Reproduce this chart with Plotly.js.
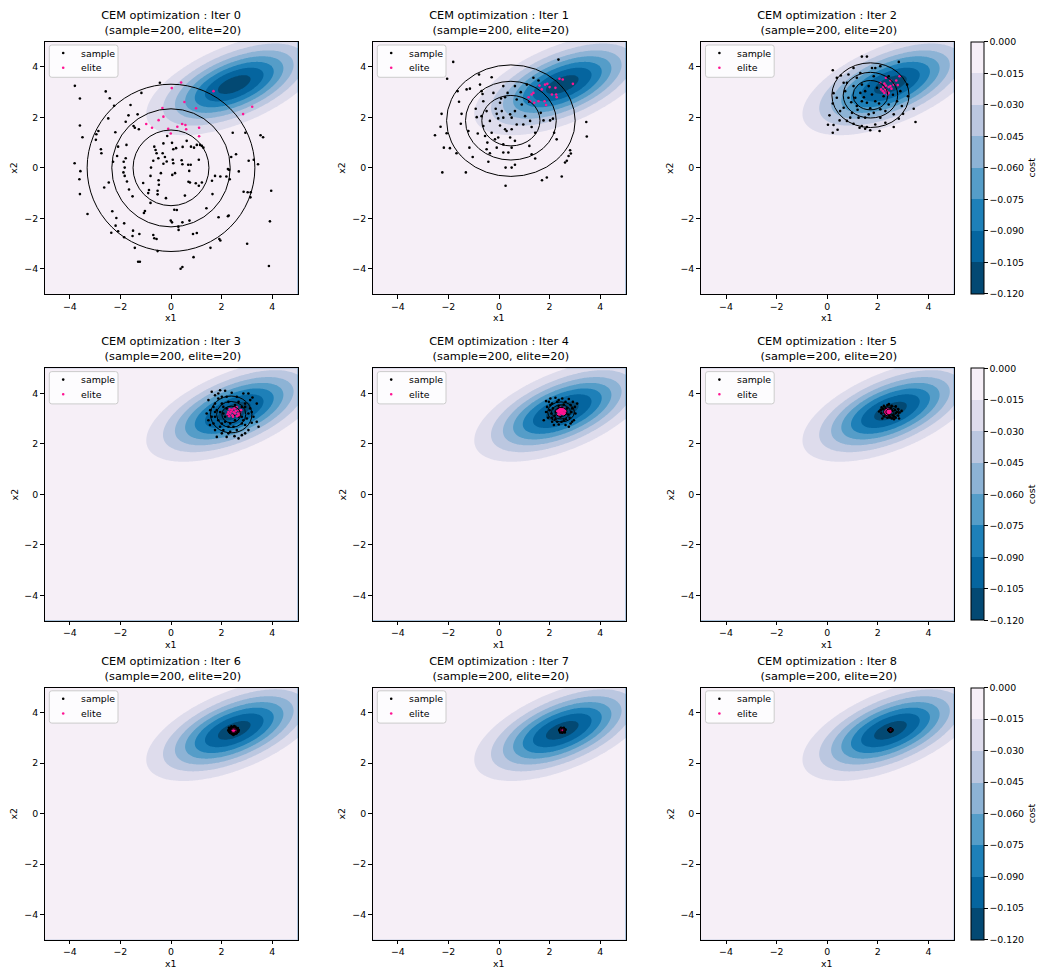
<!DOCTYPE html>
<html><head><meta charset="utf-8">
<script src="https://cdn.plot.ly/plotly-3.0.1.min.js"></script>
<style>html,body{margin:0;padding:0;background:#fff}</style>
</head><body><div id="chart" style="width:1039px;height:970px"></div>
<script>
// ---------------- data ----------------
const iterations = [0,1,2,3,4,5,6,7,8];
const sampleCount = 200, eliteCount = 20;
const seriesNames = ['sample', 'elite'];
const costMean = [2.5, 3.3];
const costCov = [[3.0, 1.0],[1.0, 1.0]];
const costLevels = {start: -0.12, end: 0, size: 0.015};
const bandColors = ['#034973','#05659f','#1e80b8','#559dc8','#8db3d5','#bbc7e0','#dedcec','#f6eff7'];
const colorbarTicks = [0, -0.015, -0.03, -0.045, -0.06, -0.075, -0.09, -0.105, -0.12];
const axisTicks = [-4, -2, 0, 2, 4];
const axisRange = [-5, 5];

// Gaussian (sampling distribution) ellipses: centre and 1st-ring radii per iteration
const ellipseCenters = [[0,0],[0.47,1.87],[1.71,2.88],[2.38,3.17],[2.45,3.27],[2.48,3.27],[2.47,3.29],[2.50,3.31],[2.50,3.31]];
const ellipseRadii = [[1.5,1.5],[1.15,1.0],[0.69,0.58],[0.37,0.33],[0.24,0.18],[0.16,0.11],[0.10,0.07],[0.06,0.045],[0.04,0.03]];
const ellipseRings = [1, 1.56, 2.21];

const samples0 = [[-3.80,3.25],[-3.60,2.75],[-3.50,1.21],[-3.60,1.68],[-3.81,0.18],[-3.58,-0.13],[-3.62,-0.45],[-3.60,-1.04],[-3.30,-1.83],[-2.58,3.03],[-2.42,2.76],[-2.25,2.46],[-2.48,1.96],[-2.95,1.33],[-2.87,1.46],[-2.97,1.11],[-2.77,0.74],[-2.75,0.58],[-2.20,1.41],[-2.09,0.84],[-2.13,0.47],[-2.29,0.24],[-2.64,-0.78],[-2.46,-0.58],[-2.32,-1.72],[-2.16,-1.99],[-2.19,-2.29],[-2.36,-2.57],[-2.09,-2.51],[-1.85,-2.20],[-1.79,1.83],[-1.76,0.91],[-1.79,0.38],[-1.87,0.24],[-1.83,0.01],[-1.83,-0.32],[-1.88,-0.18],[-1.74,-0.54],[-1.66,-0.86],[-1.52,-1.13],[-1.68,2.08],[-1.60,2.49],[-1.48,1.66],[-1.32,2.12],[-1.43,1.59],[-1.27,1.53],[-1.50,-2.49],[-1.52,-2.70],[-1.85,-2.75],[-1.43,-3.17],[-1.25,-2.62],[-1.17,2.97],[-1.07,-1.79],[-1.03,-1.71],[-0.87,-0.88],[-0.90,-1.00],[-0.81,-1.39],[-1.30,-3.72],[-1.23,-3.72],[-0.70,-2.66],[-0.66,-2.79],[-0.57,-2.82],[-0.53,-3.30],[-0.44,3.37],[-0.66,0.84],[-0.61,0.71],[-0.57,0.58],[-0.50,0.38],[-0.70,0.28],[-0.79,0.01],[-0.81,-0.32],[-0.49,-0.49],[-0.48,-0.67],[-0.53,-0.91],[-0.53,-1.05],[-0.40,-0.21],[-0.30,0.97],[-0.33,0.58],[-0.24,0.43],[-0.30,0.16],[-0.17,0.25],[-0.15,1.26],[0.04,0.99],[0.09,0.74],[0.07,0.32],[0.09,0.18],[0.05,-0.28],[0.20,0.78],[0.46,0.83],[0.42,0.30],[0.45,0.14],[0.62,1.07],[0.68,0.12],[0.72,-0.12],[0.78,0.12],[0.79,0.84],[0.91,0.80],[1.02,0.91],[1.10,0.32],[1.15,0.91],[1.22,0.87],[0.69,-0.55],[0.75,-0.58],[0.98,-0.61],[1.10,-0.71],[1.22,-0.58],[0.13,-1.66],[0.23,-1.67],[-0.01,-2.09],[0.04,-2.16],[0.45,-2.16],[0.73,-2.09],[0.29,-2.33],[0.30,-2.46],[0.87,-2.62],[1.02,-2.58],[0.45,-3.93],[0.38,-4.00],[0.89,-3.54],[1.56,-3.17],[1.91,-2.82],[1.95,-2.88],[1.88,-1.96],[2.28,-1.89],[2.25,-1.92],[2.32,-0.45],[2.25,-0.05],[2.30,-0.08],[2.19,-0.34],[1.95,-0.34],[1.74,-0.32],[1.62,-0.51],[1.64,-1.04],[2.38,0.43],[2.57,0.54],[2.68,-0.14],[2.44,1.39],[2.94,1.39],[3.07,0.28],[3.27,0.32],[3.44,0.14],[2.87,-0.95],[3.03,-0.97],[3.15,-0.97],[3.14,-1.17],[3.01,-3.01],[3.91,-2.12],[3.96,-0.91],[3.87,-3.89],[3.54,1.29],[3.64,1.21],[1.28,0.80],[0.16,-0.21],[-0.20,-1.20],[0.55,-1.10],[1.40,-1.60],[-1.10,-0.60]];
const elites0 = [[0.40,3.38],[0.03,3.16],[1.68,3.04],[0.53,2.61],[-0.34,2.37],[0.99,2.36],[3.21,2.42],[2.85,2.13],[-0.30,2.03],[-0.49,1.89],[-0.98,1.74],[-0.75,1.59],[-0.11,1.55],[-0.01,1.36],[0.25,1.63],[0.44,1.74],[0.57,1.70],[0.60,1.53],[1.11,1.59],[1.11,1.25]];

const samples1 = [[-1.81,4.20],[-2.05,3.53],[-2.27,2.14],[-2.31,1.63],[-2.53,1.29],[-2.24,-0.18],[-2.18,0.80],[-2.07,1.37],[-1.94,0.78],[-1.64,3.04],[-1.58,2.62],[-1.48,2.14],[-1.51,1.75],[-1.68,0.58],[-1.31,-0.18],[-1.28,3.11],[-1.15,3.14],[-1.21,1.46],[-1.17,0.80],[-1.04,0.43],[-0.92,2.34],[-0.88,2.01],[-0.84,1.36],[-0.79,3.70],[-0.75,3.30],[-0.69,3.04],[-0.65,2.93],[-0.62,1.66],[-0.55,1.26],[-0.46,1.00],[-0.49,0.74],[-0.42,0.24],[-0.36,0.58],[-0.29,3.59],[-0.22,2.97],[-0.13,2.34],[-0.09,2.14],[-0.03,1.96],[0.04,1.68],[0.08,2.75],[0.17,3.24],[0.24,2.80],[0.24,1.53],[0.26,0.01],[0.26,-0.71],[0.34,2.97],[0.44,2.12],[0.50,1.53],[0.50,0.01],[0.63,0.12],[0.63,3.24],[0.70,2.71],[0.86,3.00],[0.90,2.51],[0.96,1.72],[1.10,3.30],[1.19,2.62],[1.20,0.87],[1.29,0.54],[1.36,3.57],[1.43,1.39],[1.43,0.37],[1.56,3.46],[1.65,2.18],[1.70,-0.49],[1.76,1.88],[1.89,-0.38],[2.02,1.88],[2.13,1.95],[2.18,1.39],[2.28,1.13],[2.35,4.29],[2.48,-0.34],[2.61,0.21],[2.68,0.28],[2.75,0.47],[2.81,0.70],[2.84,0.57],[3.45,1.82],[3.47,1.24],[0.04,2.58],[0.11,2.25],[0.17,1.99],[0.30,1.46],[-0.03,1.20],[0.50,1.99],[0.70,1.72],[0.44,1.20],[0.17,0.93],[0.63,1.07],[-0.09,0.80],[0.50,0.80],[0.17,0.61],[0.37,0.61],[1.03,2.05],[1.23,1.86],[1.29,1.62],[0.63,2.25],[-0.62,2.64],[-0.49,2.25],[-0.69,2.05],[-0.36,1.86],[-0.29,1.39],[-0.16,1.13]];
const elites1 = [[1.17,2.80],[1.23,2.64],[1.29,2.91],[1.36,2.97],[1.60,3.26],[1.69,3.11],[1.82,3.30],[1.91,3.33],[1.80,2.64],[1.39,2.58],[1.86,2.49],[2.23,3.17],[2.26,2.91],[2.28,2.80],[2.39,3.53],[2.52,3.50],[2.92,3.33],[2.09,2.91],[1.56,2.64],[2.00,3.20]];

const samples2 = [[1.37,4.41],[1.57,4.41],[0.22,3.87],[0.38,3.57],[0.54,3.66],[0.65,3.37],[0.25,2.96],[0.38,2.78],[0.22,2.55],[0.09,2.08],[0.03,1.71],[0.22,1.39],[0.41,1.51],[0.49,1.88],[0.78,1.86],[0.91,1.99],[1.04,1.75],[1.28,1.59],[1.37,1.66],[1.50,1.55],[1.57,1.62],[1.70,1.49],[1.90,1.72],[2.07,1.46],[2.30,1.79],[2.63,1.62],[2.83,1.95],[3.00,2.14],[3.42,2.34],[3.49,1.82],[3.19,2.84],[3.16,3.30],[2.83,4.20],[2.43,3.63],[2.10,4.03],[1.84,3.63],[1.77,3.96],[1.04,3.96],[0.84,3.70],[1.17,3.57],[0.71,3.04],[0.84,2.78],[0.65,2.38],[0.98,2.18],[1.17,2.45],[1.37,2.64],[1.50,3.04],[1.31,2.97],[1.11,2.78],[1.57,2.58],[1.70,2.36],[1.84,2.18],[1.90,2.64],[2.10,2.32],[2.30,2.25],[2.43,2.51],[2.63,2.12],[2.76,2.64],[2.89,3.04],[1.37,3.30],[1.64,3.24],[1.97,3.17],[1.77,2.91],[2.23,2.84],[0.78,3.37],[0.51,2.25],[1.24,1.99],[1.50,1.99],[1.64,2.12],[2.10,1.99],[0.25,1.70],[1.90,3.96],[1.31,3.76],[1.04,3.24],[2.60,2.90],[2.95,2.45],[1.20,2.30],[0.95,2.60],[1.45,2.80],[2.05,2.55]];
const elites2 = [[2.10,3.37],[2.26,3.34],[2.32,3.26],[2.50,3.46],[2.73,3.46],[2.79,3.28],[2.43,3.20],[2.20,3.04],[2.36,3.04],[2.26,2.97],[2.43,2.97],[2.13,3.11],[2.50,3.24],[2.32,3.57],[2.86,3.63],[2.63,3.30],[2.30,3.11],[2.54,3.14],[2.22,3.20],[2.39,2.91]];

const samples3 = [[1.48,3.74],[1.61,4.07],[1.94,4.13],[1.87,4.00],[2.14,4.11],[2.40,4.03],[2.86,4.00],[3.06,4.00],[3.22,3.84],[3.39,3.60],[3.13,3.74],[2.93,3.60],[1.41,3.21],[1.48,2.94],[1.54,2.75],[1.74,2.55],[1.81,2.28],[2.20,2.28],[2.51,2.31],[2.67,2.22],[2.93,2.42],[3.06,2.55],[3.19,2.84],[3.39,2.88],[3.46,2.68],[2.80,2.81],[2.27,2.68],[2.01,2.81],[1.74,3.08],[1.68,3.47],[2.01,3.60],[2.27,3.67],[2.67,3.67],[2.93,3.47],[3.06,3.21],[1.94,3.27],[2.14,3.08],[2.53,2.94],[2.80,3.08],[3.00,3.01],[2.07,2.55],[2.34,2.48],[2.60,2.55],[1.87,3.80],[1.74,3.60],[2.20,3.41],[2.73,3.27],[1.55,3.34],[1.61,3.08],[3.26,3.08],[2.40,3.34],[2.07,3.21],[2.27,3.14],[2.47,3.14],[2.14,2.88],[2.34,2.81],[1.87,2.94],[1.81,3.34],[2.67,3.08],[2.86,2.94],[2.93,2.75],[2.47,2.68],[1.94,2.68],[1.68,2.81],[2.07,3.47],[2.53,3.54],[2.80,3.47],[3.13,3.41],[3.19,3.27],[1.74,3.27],[2.20,3.87],[2.60,3.87],[2.01,3.87],[1.74,3.93],[2.27,2.42],[2.01,2.42],[2.80,2.35]];
const elites3 = [[2.27,3.27],[2.34,3.21],[2.51,3.41],[2.60,3.45],[2.67,3.34],[2.53,3.21],[2.64,3.21],[2.73,3.24],[2.43,3.14],[2.24,3.18],[2.56,3.31],[2.38,3.29],[2.69,3.14],[2.48,3.26],[2.32,3.37],[2.61,3.10],[2.77,3.34],[2.45,3.08],[2.30,3.10],[2.42,3.36]];

const samples4 = [[1.86,3.70],[2.03,3.80],[2.23,3.83],[2.50,3.80],[2.76,3.78],[2.92,3.67],[3.00,3.47],[3.02,3.21],[2.96,2.94],[2.83,2.81],[2.63,2.75],[2.36,2.77],[2.10,2.88],[1.94,3.04],[1.86,3.27],[1.90,3.47],[2.10,3.60],[2.30,3.67],[2.63,3.67],[2.83,3.54],[2.86,3.27],[2.79,3.04],[2.56,2.94],[2.23,2.98],[2.07,3.21],[2.13,3.41],[2.36,3.51],[2.69,3.41],[2.73,3.17],[2.43,3.08],[2.26,3.27],[2.20,3.12],[2.00,3.34],[2.56,3.56],[2.89,2.88],[2.47,2.88],[1.97,3.67],[1.77,2.94],[3.09,3.60],[2.17,2.75],[2.76,2.68],[2.34,3.38],[2.63,3.21],[2.50,3.43],[2.10,3.04],[2.30,2.88],[2.89,3.41],[2.65,2.98],[2.03,3.54],[2.36,3.74]];
const elites4 = [[2.36,3.34],[2.43,3.38],[2.50,3.37],[2.56,3.33],[2.52,3.25],[2.44,3.22],[2.36,3.25],[2.40,3.30],[2.47,3.27],[2.55,3.41],[2.34,3.17],[2.59,3.22],[2.42,3.43],[2.50,3.20],[2.31,3.30],[2.63,3.30],[2.39,3.14],[2.51,3.33],[2.46,3.35],[2.56,3.17]];

const samples5 = [[2.15,3.45],[2.24,3.51],[2.38,3.54],[2.55,3.51],[2.71,3.49],[2.81,3.38],[2.86,3.25],[2.81,3.12],[2.71,3.04],[2.55,3.01],[2.38,3.04],[2.24,3.09],[2.14,3.22],[2.11,3.35],[2.31,3.41],[2.51,3.43],[2.68,3.35],[2.71,3.22],[2.60,3.14],[2.44,3.14],[2.28,3.25],[2.38,3.35],[2.57,3.31],[2.20,3.38],[2.76,3.27],[2.47,3.06],[2.64,3.09],[2.31,3.14],[2.05,3.29],[2.94,3.31],[2.44,3.58],[2.64,2.98],[2.18,3.01],[2.84,3.01],[2.51,3.25],[2.42,3.30]];
const elites5 = [[2.34,3.30],[2.39,3.33],[2.44,3.30],[2.42,3.25],[2.36,3.22],[2.31,3.25],[2.47,3.25],[2.39,3.20],[2.44,3.20],[2.35,3.27],[2.40,3.27],[2.32,3.33],[2.48,3.33],[2.38,3.38],[2.43,3.35],[2.28,3.27],[2.50,3.27],[2.39,3.25],[2.35,3.17],[2.44,3.25]];

const samples6 = [[2.30,3.35],[2.35,3.40],[2.42,3.42],[2.50,3.41],[2.58,3.38],[2.62,3.30],[2.60,3.20],[2.52,3.16],[2.43,3.15],[2.35,3.20],[2.31,3.27],[2.38,3.33],[2.45,3.35],[2.53,3.34],[2.56,3.26],[2.49,3.22],[2.40,3.24],[2.44,3.29],[2.51,3.29],[2.36,3.38],[2.55,3.44],[2.27,3.30],[2.66,3.25],[2.47,3.12],[2.39,3.46],[2.60,3.35],[2.33,3.22],[2.58,3.18],[2.47,3.38],[2.41,3.19],[2.29,3.40],[2.64,3.39],[2.50,3.47],[2.45,3.23],[2.68,3.31]];
const elites6 = [[2.44,3.30],[2.47,3.32],[2.50,3.31],[2.52,3.28],[2.49,3.27],[2.46,3.27],[2.45,3.33],[2.51,3.34],[2.48,3.30],[2.53,3.31],[2.43,3.28],[2.47,3.25],[2.50,3.35],[2.54,3.29],[2.46,3.31],[2.49,3.33],[2.51,3.26],[2.44,3.26],[2.52,3.32],[2.48,3.28]];

const samples7 = [[2.40,3.34],[2.43,3.37],[2.48,3.38],[2.54,3.37],[2.59,3.35],[2.61,3.30],[2.58,3.25],[2.52,3.23],[2.46,3.24],[2.41,3.27],[2.45,3.31],[2.50,3.33],[2.55,3.31],[2.52,3.28],[2.47,3.28],[2.43,3.30],[2.57,3.28],[2.49,3.35],[2.53,3.34],[2.38,3.31],[2.63,3.33],[2.50,3.21],[2.45,3.40],[2.56,3.40],[2.42,3.22],[2.60,3.22],[2.48,3.31],[2.51,3.30],[2.44,3.34],[2.56,3.34]];
const elites7 = [[2.48,3.31],[2.50,3.32],[2.52,3.31],[2.51,3.29],[2.49,3.29],[2.47,3.30],[2.50,3.34],[2.53,3.33],[2.48,3.33],[2.52,3.30],[2.46,3.32],[2.54,3.31],[2.49,3.31],[2.51,3.33],[2.50,3.30],[2.47,3.28],[2.53,3.29],[2.50,3.28],[2.48,3.35],[2.52,3.34]];

const samples8 = [[2.44,3.33],[2.46,3.35],[2.50,3.36],[2.54,3.35],[2.57,3.33],[2.57,3.29],[2.54,3.27],[2.50,3.26],[2.46,3.27],[2.43,3.30],[2.48,3.31],[2.52,3.32],[2.50,3.29],[2.47,3.33],[2.53,3.30],[2.45,3.29],[2.55,3.31],[2.49,3.34],[2.51,3.28],[2.42,3.32],[2.58,3.31],[2.50,3.38],[2.50,3.24],[2.46,3.31],[2.54,3.33]];
const elites8 = [[2.49,3.31],[2.50,3.32],[2.51,3.31],[2.50,3.30],[2.49,3.30],[2.51,3.32],[2.48,3.32],[2.52,3.31],[2.50,3.31],[2.49,3.33],[2.51,3.29],[2.50,3.33],[2.48,3.30],[2.52,3.30],[2.50,3.29],[2.49,3.32],[2.51,3.30],[2.50,3.31],[2.52,3.33],[2.48,3.31]];

const sampleSets = [samples0,samples1,samples2,samples3,samples4,samples5,samples6,samples7,samples8];
const eliteSets = [elites0,elites1,elites2,elites3,elites4,elites5,elites6,elites7,elites8];

// ---------------- layout geometry (pixels) ----------------
const W = 1039, H = 970;
const colPx = [[44.5, 297.5], [372.5, 625.5], [700.7, 953.7]];
const rowPx = [[41.7, 294], [368.3, 620.5], [687.5, 939.7]];
const FONT = 'DejaVu Sans';
const tickSize = 9.4, titleSize = 11.3;
const seriesColors = ['#000000', '#ff1493'];
const markerPx = 2.6;
// legend box geometry relative to the panel's top-left corner (px)
const legendBox = {left: 4.8, top: 3.3, width: 68.7, height: 32.3, radius: 2.5, markerX: 18.7, textX: 35.4, rowY: [11.3, 26.0]};

// ---------------- cost surface ----------------
const N = 201;
const grid = [];
for (let i = 0; i < N; i++) grid.push(axisRange[0] + (axisRange[1]-axisRange[0]) * i / (N-1));
const det = costCov[0][0]*costCov[1][1] - costCov[0][1]*costCov[1][0];
const inv = [[costCov[1][1]/det, -costCov[0][1]/det], [-costCov[1][0]/det, costCov[0][0]/det]];
const amp = 1 / (2*Math.PI*Math.sqrt(det));
const zGrid = grid.map(yv => grid.map(xv => {
  const dx = xv - costMean[0], dy = yv - costMean[1];
  const q = dx*(inv[0][0]*dx + inv[0][1]*dy) + dy*(inv[1][0]*dx + inv[1][1]*dy);
  return -amp*Math.exp(-0.5*q);
}));

// contour colour scale: plotly samples band colours at (k+1)/9
const contourScale = [[0, bandColors[0]]];
bandColors.forEach((c, k) => contourScale.push([(k+1)/9, c]));
contourScale.push([1, bandColors[bandColors.length-1]]);
// stepped scale for the colour bar
const stepScale = [];
bandColors.forEach((c, k) => { stepScale.push([k/8, c]); stepScale.push([(k+1)/8, c]); });

const traces = [], shapes = [], annotations = [];
const layout = {
  width: W, height: H, margin: {l:0, r:0, t:0, b:0},
  paper_bgcolor: '#fff', plot_bgcolor: '#fff',
  font: {family: FONT, size: tickSize, color: '#000'},
  hovermode: false, showlegend: false
};
const px2x = p => p / W, px2y = p => 1 - p / H;

iterations.forEach((it, k) => {
  const r = Math.floor(k/3), c = k % 3;
  const sfx = k === 0 ? '' : String(k+1);
  const xa = 'x' + sfx, ya = 'y' + sfx;
  const xd = [px2x(colPx[c][0]), px2x(colPx[c][1])];
  const yd = [px2y(rowPx[r][1]), px2y(rowPx[r][0])];
  const axCommon = {
    range: axisRange, tickvals: axisTicks, ticks: 'outside', ticklen: 3.5, tickwidth: 1, tickcolor: '#000',
    showline: true, linecolor: '#000', linewidth: 1, mirror: true, showgrid: false, zeroline: false,
    tickfont: {family: FONT, size: tickSize, color: '#000'}, fixedrange: true
  };
  layout['xaxis' + sfx] = Object.assign({}, axCommon, {domain: xd, anchor: ya});
  layout['yaxis' + sfx] = Object.assign({}, axCommon, {domain: yd, anchor: xa});

  traces.push({
    type: 'contour', x: grid, y: grid, z: zGrid, xaxis: xa, yaxis: ya,
    autocontour: false, contours: {start: costLevels.start, end: costLevels.end, size: costLevels.size, coloring: 'fill', showlines: false},
    line: {width: 0}, colorscale: contourScale, showscale: false, hoverinfo: 'skip', showlegend: false
  });
  [sampleSets[k], eliteSets[k]].forEach((pts, s) => {
    traces.push({
      type: 'scatter', mode: 'markers', name: seriesNames[s], xaxis: xa, yaxis: ya, showlegend: false,
      x: pts.map(p => p[0]), y: pts.map(p => p[1]),
      marker: {color: seriesColors[s], size: markerPx, line: {width: 0}}
    });
  });

  // legend (matplotlib style box, upper left)
  const L = colPx[c][0] + legendBox.left, T = rowPx[r][0] + legendBox.top;
  const R = L + legendBox.width, B = T + legendBox.height, rr = legendBox.radius;
  const P = (x, y) => px2x(x) + ',' + px2y(y);
  shapes.push({type: 'path', xref: 'paper', yref: 'paper', layer: 'above',
    path: 'M' + P(L+rr, T) + ' L' + P(R-rr, T) + ' Q' + P(R, T) + ' ' + P(R, T+rr) + ' L' + P(R, B-rr) + ' Q' + P(R, B) + ' ' + P(R-rr, B) +
          ' L' + P(L+rr, B) + ' Q' + P(L, B) + ' ' + P(L, B-rr) + ' L' + P(L, T+rr) + ' Q' + P(L, T) + ' ' + P(L+rr, T) + ' Z',
    fillcolor: 'rgba(255,255,255,0.8)', line: {color: '#cccccc', width: 1}});
  seriesNames.forEach((nm, s) => {
    const my = T + legendBox.rowY[s] - legendBox.top, mx = colPx[c][0] + legendBox.markerX;
    shapes.push({type: 'circle', xref: 'paper', yref: 'paper', layer: 'above',
      x0: px2x(mx - markerPx/2), x1: px2x(mx + markerPx/2), y0: px2y(my + markerPx/2), y1: px2y(my - markerPx/2),
      fillcolor: seriesColors[s], line: {width: 0}});
    annotations.push({xref: 'paper', yref: 'paper', x: px2x(colPx[c][0] + legendBox.textX), y: px2y(my),
      xanchor: 'left', yanchor: 'middle', showarrow: false, borderpad: 0, text: nm,
      font: {family: FONT, size: tickSize, color: '#000'}});
  });

  // sampling-distribution ellipses
  const ctr = ellipseCenters[k], rad = ellipseRadii[k];
  ellipseRings.forEach(s => {
    shapes.push({type: 'circle', xref: xa, yref: ya,
      x0: ctr[0] - rad[0]*s, x1: ctr[0] + rad[0]*s, y0: ctr[1] - rad[1]*s, y1: ctr[1] + rad[1]*s,
      line: {color: '#000', width: 1}, fillcolor: 'rgba(0,0,0,0)', layer: 'above'});
  });

  // titles and axis labels
  const cx = px2x((colPx[c][0] + colPx[c][1]) / 2);
  annotations.push({xref: 'paper', yref: 'paper', x: cx, y: px2y(rowPx[r][0]), xanchor: 'center', yanchor: 'bottom', yshift: 3,
    showarrow: false, align: 'center',
    text: 'CEM optimization : Iter ' + it + '<br>\u00a0(sample=' + sampleCount + ', elite=' + eliteCount + ')',
    font: {family: FONT, size: titleSize, color: '#000'}});
  annotations.push({xref: 'paper', yref: 'paper', x: cx, y: px2y(rowPx[r][1] + 24), xanchor: 'center', yanchor: 'middle',
    showarrow: false, text: 'x1', font: {family: FONT, size: tickSize, color: '#000'}});
  annotations.push({xref: 'paper', yref: 'paper', x: px2x(colPx[c][0] - 30.5), y: px2y((rowPx[r][0] + rowPx[r][1])/2),
    xanchor: 'center', yanchor: 'middle', textangle: -90,
    showarrow: false, text: 'x2', font: {family: FONT, size: tickSize, color: '#000'}});

  // colour bar on the right of each row
  if (c === 2) {
    traces.push({
      type: 'scatter', mode: 'markers', x: [costMean[0]], y: [costMean[1]], xaxis: xa, yaxis: ya,
      showlegend: false, hoverinfo: 'skip', opacity: 0,
      marker: {size: 1, color: [costLevels.start/2], colorscale: stepScale, cmin: costLevels.start, cmax: costLevels.end, showscale: true,
        colorbar: {
          x: px2x(970.7), xanchor: 'left', xref: 'paper', y: px2y((rowPx[r][0] + rowPx[r][1])/2), yanchor: 'middle', yref: 'paper',
          len: rowPx[r][1] - rowPx[r][0], lenmode: 'pixels', thickness: 13, thicknessmode: 'pixels',
          xpad: 0, ypad: 0, outlinewidth: 1, outlinecolor: '#000',
          tickvals: colorbarTicks, tickformat: '.3f', ticks: 'outside', ticklen: 3.5, tickwidth: 1, tickcolor: '#000',
          tickfont: {family: FONT, size: tickSize, color: '#000'},
          title: {text: 'cost', side: 'right', font: {family: FONT, size: tickSize, color: '#000'}}
        }}
    });
  }
});

layout.shapes = shapes;
layout.annotations = annotations;
Plotly.newPlot('chart', traces, layout, {staticPlot: true, displayModeBar: false});
</script></body></html>
